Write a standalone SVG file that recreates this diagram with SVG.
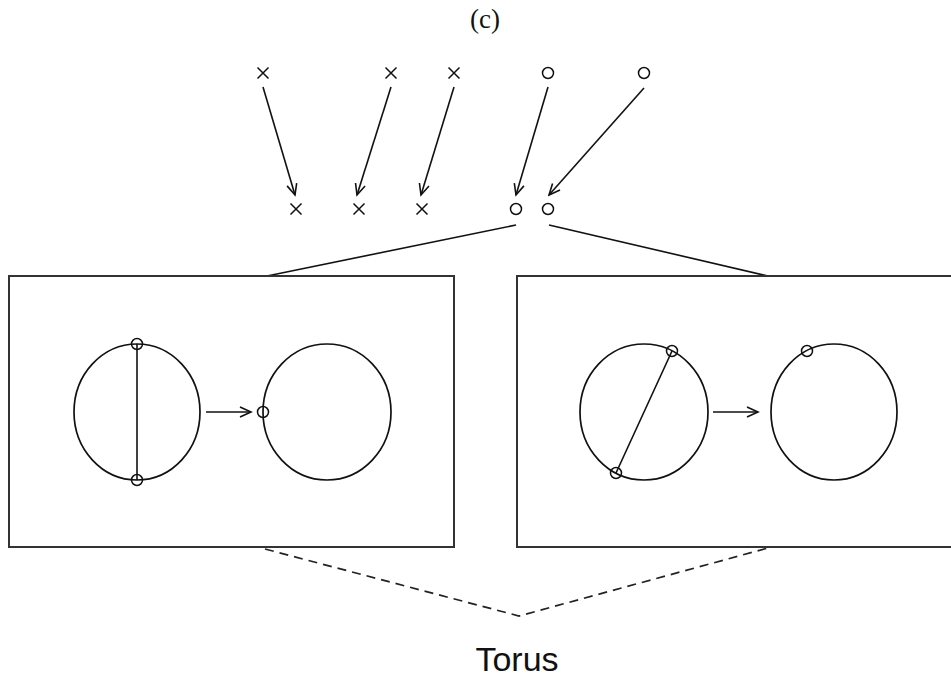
<svg xmlns="http://www.w3.org/2000/svg" width="951" height="679" viewBox="0 0 951 679">
<defs>
<marker id="ah" markerWidth="14" markerHeight="14" refX="12" refY="6" orient="auto" markerUnits="userSpaceOnUse">
<path d="M1,1 L12,6 L1,11" fill="none" stroke="#111" stroke-width="1.6"/>
</marker>
</defs>
<style>
.ln{stroke:#111;stroke-width:1.6;fill:none}
.box{stroke:#333;stroke-width:2;fill:#fff}
.big{stroke:#111;stroke-width:1.7;fill:none}
.pt{stroke:#111;stroke-width:1.5;fill:none}
.dash{stroke:#222;stroke-width:1.7;fill:none;stroke-dasharray:9 6}
.arr{stroke:#111;stroke-width:1.6;fill:none;marker-end:url(#ah)}
</style>
<rect width="951" height="679" fill="#fff"/>
<text x="485" y="28" font-family="Liberation Serif, serif" font-size="27" text-anchor="middle" fill="#111">(c)</text>

<g id="top-points">
<path class="pt" d="M257.5,67.5 l11,11 M268.5,67.5 l-11,11"/>
<path class="pt" d="M385.5,67.5 l11,11 M396.5,67.5 l-11,11"/>
<path class="pt" d="M448.5,67.5 l11,11 M459.5,67.5 l-11,11"/>
<circle class="pt" cx="548" cy="73" r="5.5"/>
<circle class="pt" cx="644" cy="73" r="5.5"/>
</g>
<g id="bottom-points">
<path class="pt" d="M290.5,203.5 l11,11 M301.5,203.5 l-11,11"/>
<path class="pt" d="M353.5,203.5 l11,11 M364.5,203.5 l-11,11"/>
<path class="pt" d="M416.5,203.5 l11,11 M427.5,203.5 l-11,11"/>
<circle class="pt" cx="516" cy="209" r="5.5"/>
<circle class="pt" cx="548" cy="209" r="5.5"/>
</g>

<g id="connectors">
<line class="arr" x1="263" y1="87" x2="295" y2="195"/>
<line class="arr" x1="391" y1="87" x2="357" y2="195"/>
<line class="arr" x1="454" y1="87" x2="421" y2="195"/>
<line class="arr" x1="548" y1="87" x2="516" y2="195"/>
<line class="arr" x1="644" y1="88" x2="549" y2="195"/>
<line class="ln" x1="516" y1="225" x2="267" y2="276"/>
<line class="ln" x1="549" y1="225" x2="768" y2="276"/>
<polyline class="dash" points="265,549 519,616 768,548"/>
</g>

<g id="left-box">
<rect class="box" x="9" y="276" width="445" height="271"/>
<ellipse class="big" cx="137" cy="412" rx="63" ry="68"/>
<line class="ln" x1="137" y1="344" x2="137" y2="480"/>
<circle class="pt" cx="137" cy="344" r="5.5"/>
<circle class="pt" cx="137" cy="480" r="5.5"/>
<line class="arr" x1="206" y1="412" x2="251" y2="412"/>
<ellipse class="big" cx="327" cy="412" rx="64" ry="68"/>
<circle class="pt" cx="263" cy="412" r="5.5"/>
</g>

<g id="right-box">
<rect class="box" x="517" y="276" width="445" height="271"/>
<ellipse class="big" cx="644" cy="412" rx="64" ry="68"/>
<line class="ln" x1="672" y1="351" x2="616" y2="473"/>
<circle class="pt" cx="672" cy="351" r="5.5"/>
<circle class="pt" cx="616" cy="473" r="5.5"/>
<line class="arr" x1="713" y1="412" x2="758" y2="412"/>
<ellipse class="big" cx="834" cy="412" rx="63" ry="68"/>
<circle class="pt" cx="807" cy="351" r="5.5"/>
</g>

<text x="517" y="671" font-family="Liberation Sans, Arial, sans-serif" font-size="34" text-anchor="middle" fill="#111">Torus</text>
</svg>
